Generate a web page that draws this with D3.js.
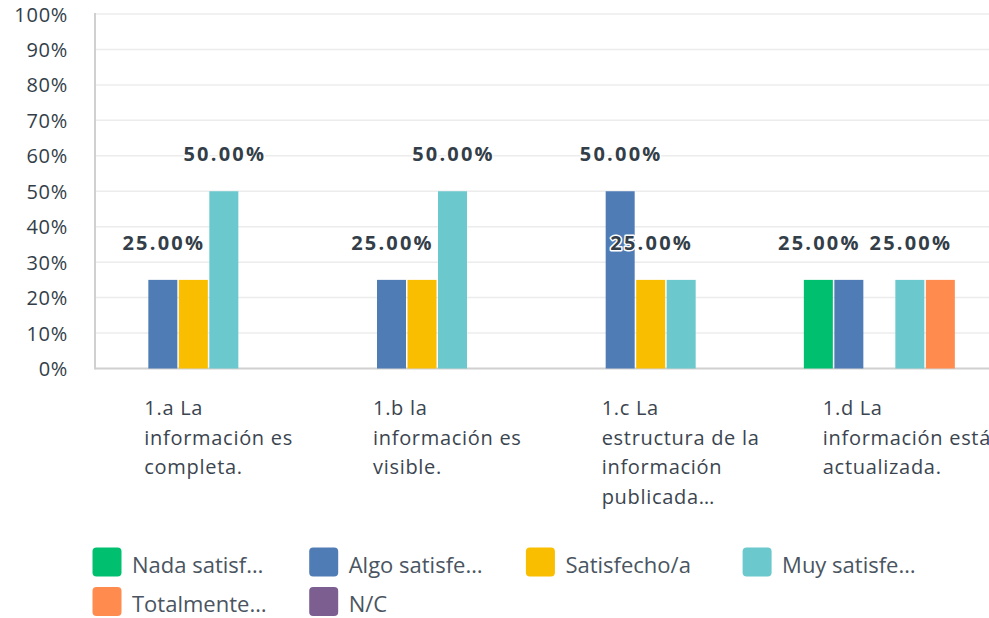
<!DOCTYPE html>
<html><head><meta charset="utf-8">
<script src="https://cdn.jsdelivr.net/npm/d3@7"></script>
<style>
html,body{margin:0;padding:0;background:#fff;}
svg{display:block;font-family:"Open Sans",sans-serif;}
</style></head>
<body><svg id="c" width="989" height="618"></svg>
<script>
// ---- data ----
const categories = [
  ["1.a La", "información es", "completa."],
  ["1.b la", "información es", "visible."],
  ["1.c La", "estructura de la", "información", "publicada…"],
  ["1.d La", "información está", "actualizada."]
];
const seriesNames = ["Nada satisf…", "Algo satisfe…", "Satisfecho/a", "Muy satisfe…", "Totalmente…", "N/C"];
const seriesColors = ["#00BF6F", "#507CB6", "#F9BE00", "#6BC8CD", "#FF8B4F", "#7D5E90"];
// values per series (one per category), in percent
const nadaSatisf = [0, 0, 0, 25];
const algoSatisf = [25, 25, 50, 25];
const satisfecho = [25, 25, 25, 0];
const muySatisf = [50, 50, 25, 25];
const totalmente = [0, 0, 0, 25];
const nc = [0, 0, 0, 0];
const yTicks = [0, 10, 20, 30, 40, 50, 60, 70, 80, 90, 100];

const seriesValues = [nadaSatisf, algoSatisf, satisfecho, muySatisf, totalmente, nc];

(function () {
// ---- layout ----
const W = 989, H = 618;
const pLeft = 95, pRight = pLeft + 4 * 228.67, pTop = 14, pBottom = 368.5;
const svg = d3.select("#c");

const x0 = d3.scaleBand().domain(d3.range(categories.length)).range([pLeft, pRight]).padding(0);
const bw = x0.bandwidth();
const step = 30.5;
const pad = (bw - step * seriesNames.length) / 2;
const x1 = d3.scaleBand().domain(d3.range(seriesNames.length)).range([pad, bw - pad]).padding(0);
const y = d3.scaleLinear().domain([0, 100]).range([pBottom, pTop]);

// grid lines
svg.append("g").selectAll("line").data(yTicks.filter(t => t > 0)).join("line")
  .attr("x1", pLeft).attr("x2", W).attr("y1", d => y(d)).attr("y2", d => y(d))
  .attr("stroke", "#ececec").attr("stroke-width", 1.5);

// y axis labels
const yAxis = d3.axisLeft(y).tickValues(yTicks).tickFormat(d => d + "%").tickSize(0).tickPadding(27);
const ya = svg.append("g").attr("transform", `translate(${pLeft},0)`).call(yAxis);
ya.select(".domain").remove();
ya.selectAll("text").attr("font-size", 20).attr("letter-spacing", 0.7).attr("fill", "#333e48")
  .attr("font-family", "Open Sans").attr("dy", "0.35em");

// axis lines
svg.append("line").attr("x1", pLeft).attr("x2", pLeft).attr("y1", pTop - 1).attr("y2", pBottom + 1)
  .attr("stroke", "#d0d0d0").attr("stroke-width", 2);
svg.append("line").attr("x1", pLeft).attr("x2", W).attr("y1", pBottom).attr("y2", pBottom)
  .attr("stroke", "#d0d0d0").attr("stroke-width", 2);

// bars
const barData = [];
categories.forEach((c, ci) => seriesValues.forEach((vals, si) => {
  barData.push({ci, si, v: vals[ci]});
}));
svg.append("g").selectAll("rect").data(barData.filter(d => d.v > 0)).join("rect")
  .attr("x", d => x0(d.ci) + x1(d.si))
  .attr("width", x1.bandwidth() - 1.5)
  .attr("y", d => y(d.v))
  .attr("height", d => y(0) - y(d.v))
  .attr("fill", d => seriesColors[d.si]);

// value labels with greedy overlap hiding
const lblG = svg.append("g");
categories.forEach((c, ci) => {
  const shown = [];
  seriesValues.forEach((vals, si) => {
    const v = vals[ci];
    if (!(v > 0)) return;
    const cx = x0(ci) + x1(si) + (x1.bandwidth() - 1.5) / 2 + 1;
    const by = y(v) - 30;
    const t = lblG.append("text").attr("x", cx).attr("y", by)
      .attr("text-anchor", "middle").attr("font-size", 20).attr("font-weight", 700)
      .attr("letter-spacing", 2.2)
      .attr("fill", "#333e48").attr("stroke", "#fff").attr("stroke-width", 3)
      .attr("paint-order", "stroke").attr("stroke-linejoin", "round")
      .text(v.toFixed(2) + "%");
    const w = t.node().getComputedTextLength();
    const box = {x0: cx - w / 2, x1: cx + w / 2, y0: by - 20, y1: by};
    const hit = shown.some(b => !(box.x1 <= b.x0 || box.x0 >= b.x1 || box.y1 <= b.y0 || box.y0 >= b.y1));
    if (hit) t.remove(); else shown.push(box);
  });
});

// category labels
const catG = svg.append("g");
categories.forEach((lines, ci) => {
  const t = catG.append("text").attr("font-size", 20).attr("letter-spacing", 0.7).attr("fill", "#3b4550");
  lines.forEach((ln, li) => {
    t.append("tspan").attr("y", 415 + li * 29.5).text(ln);
  });
  const w = d3.max(t.selectAll("tspan").nodes(), n => n.getComputedTextLength());
  const cx = x0(ci) + bw / 2;
  const xx = Math.min(cx - 65, W + 2 - w);
  t.selectAll("tspan").attr("x", xx);
});

// legend
const leg = svg.append("g");
seriesNames.forEach((name, i) => {
  const col = i % 4, row = Math.floor(i / 4);
  const gx = 92.5 + col * 216.7, gy = 547.5 + row * 39.5;
  leg.append("rect").attr("x", gx).attr("y", gy).attr("width", 29).attr("height", 29)
    .attr("rx", 4).attr("fill", seriesColors[i]);
  leg.append("text").attr("x", gx + 39.5).attr("y", gy + 25).attr("font-size", 22)
    .attr("fill", "#4a5561").text(name);
});
})();
</script></body></html>
